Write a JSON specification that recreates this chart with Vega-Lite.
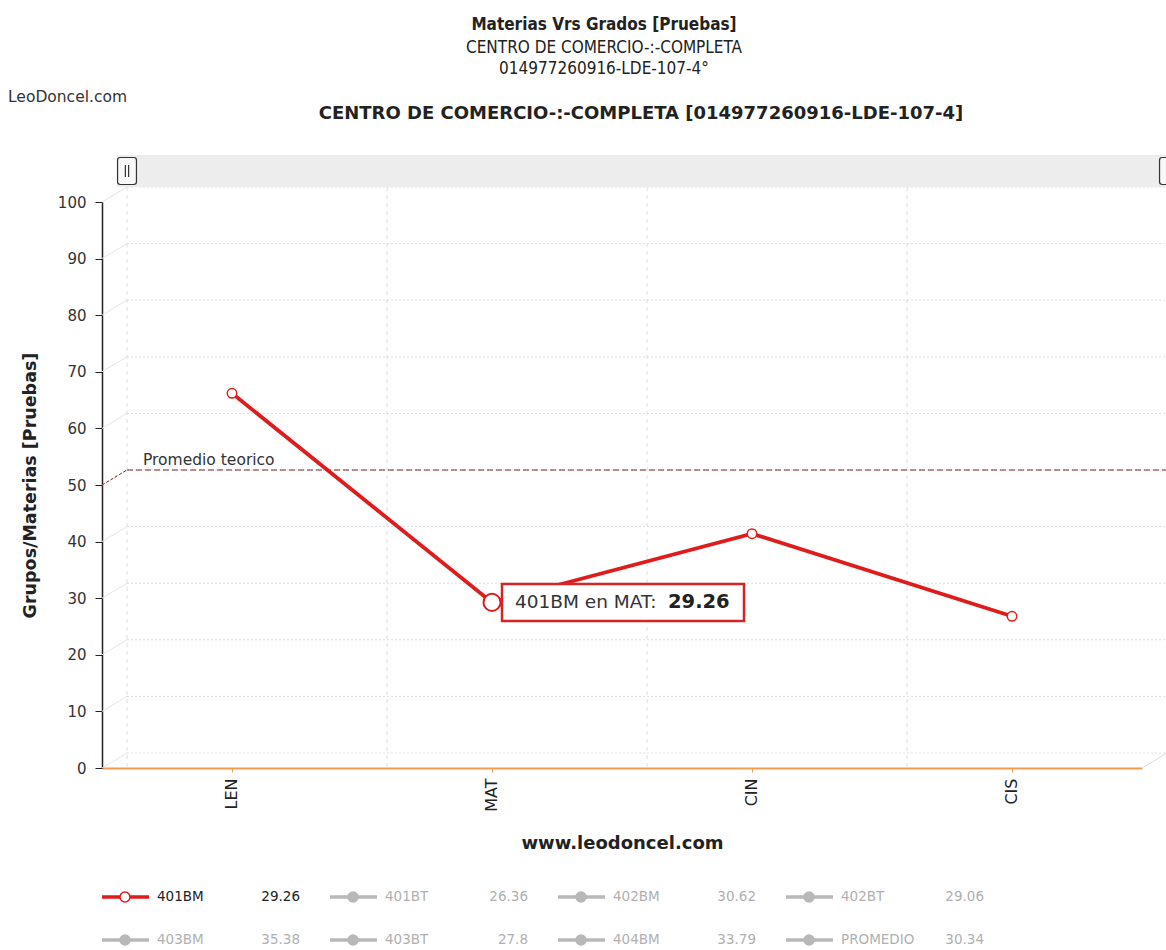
{
  "$schema": "https://vega.github.io/schema/vega-lite/v6.json",
  "background": "white",
  "padding": {"left": 8, "top": 16, "right": 0, "bottom": 0},
  "title": {
    "text": "Materias Vrs Grados [Pruebas]",
    "subtitle": ["CENTRO DE COMERCIO-:-COMPLETA", "014977260916-LDE-107-4°"],
    "anchor": "middle",
    "font": "DejaVu Sans Condensed",
    "fontSize": 17,
    "fontWeight": "bold",
    "color": "#222222",
    "subtitleFont": "DejaVu Sans Condensed",
    "subtitleFontSize": 17,
    "subtitleColor": "#222222",
    "subtitlePadding": 6,
    "subtitleLineHeight": 21,
    "offset": 12,
    "dx": 9
  },
  "datasets": {
    "grado": [
      {"serie": "401BM", "materia": "LEN", "valor": 66.2},
      {"serie": "401BM", "materia": "MAT", "valor": 29.26},
      {"serie": "401BM", "materia": "CIN", "valor": 41.4},
      {"serie": "401BM", "materia": "CIS", "valor": 26.8}
    ],
    "materias": [
      {"materia": "LEN"}, {"materia": "MAT"}, {"materia": "CIN"}, {"materia": "CIS"}
    ],
    "niveles": [
      {"v": 0}, {"v": 10}, {"v": 20}, {"v": 30}, {"v": 40}, {"v": 50},
      {"v": 60}, {"v": 70}, {"v": 80}, {"v": 90}, {"v": 100}
    ],
    "leyenda": [
      {"serie": "401BM", "valor": 29.26, "col": 0, "fila": 0, "activo": true},
      {"serie": "401BT", "valor": 26.36, "col": 1, "fila": 0, "activo": false},
      {"serie": "402BM", "valor": 30.62, "col": 2, "fila": 0, "activo": false},
      {"serie": "402BT", "valor": 29.06, "col": 3, "fila": 0, "activo": false},
      {"serie": "403BM", "valor": 35.38, "col": 0, "fila": 1, "activo": false},
      {"serie": "403BT", "valor": 27.8, "col": 1, "fila": 1, "activo": false},
      {"serie": "404BM", "valor": 33.79, "col": 2, "fila": 1, "activo": false},
      {"serie": "PROMEDIO", "valor": 30.34, "col": 3, "fila": 1, "activo": false}
    ]
  },
  "spacing": 36,
  "vconcat": [
    {
      "width": 1040,
      "height": 566,
      "title": {
        "text": "CENTRO DE COMERCIO-:-COMPLETA [014977260916-LDE-107-4]",
        "font": "DejaVu Sans",
        "fontSize": 18,
        "fontWeight": "bold",
        "color": "#222222",
        "anchor": "middle",
        "frame": "group",
        "offset": -33,
        "dx": 19
      },
      "layer": [
        {
          "data": {"name": "niveles"},
          "mark": {"type": "rule", "xOffset": 25, "x2Offset": 25, "yOffset": -15, "y2Offset": -15, "color": "#dddddd", "strokeDash": [2, 2], "strokeWidth": 1},
          "encoding": {
            "x": {"datum": "LEN", "type": "nominal", "bandPosition": 0},
            "x2": {"datum": "CIS", "bandPosition": 1},
            "y": {
              "field": "v",
              "type": "quantitative",
              "title": "Grupos/Materias [Pruebas]",
              "scale": {"domain": [0, 100], "nice": false},
              "axis": {"values": [0, 10, 20, 30, 40, 50, 60, 70, 80, 90, 100]}
            }
          }
        },
        {
          "data": {"name": "niveles"},
          "mark": {"type": "rule", "x2Offset": 25, "y2Offset": -15, "color": "#e6e6e6", "strokeWidth": 1},
          "encoding": {
            "x": {"datum": "LEN", "type": "nominal", "bandPosition": 0},
            "x2": {"datum": "LEN", "bandPosition": 0},
            "y": {"field": "v", "type": "quantitative"},
            "y2": {"field": "v"}
          }
        },
        {
          "data": {"name": "materias"},
          "mark": {"type": "rule", "xOffset": 25, "yOffset": -15, "y2Offset": -15, "color": "#dddddd", "strokeDash": [4, 4], "strokeWidth": 1},
          "encoding": {
            "x": {
              "field": "materia",
              "type": "nominal",
              "bandPosition": 0,
              "title": "www.leodoncel.com",
              "sort": null,
              "scale": {"domain": ["LEN", "MAT", "CIN", "CIS"], "paddingInner": 0, "paddingOuter": 0}
            }
          }
        },
        {
          "data": {"values": [{"materia": "CIS"}]},
          "mark": {"type": "rule", "x2Offset": 25, "y2Offset": -15, "color": "#dddddd", "strokeWidth": 1},
          "encoding": {
            "x": {"datum": "CIS", "type": "nominal", "bandPosition": 1},
            "x2": {"datum": "CIS", "bandPosition": 1},
            "y": {"datum": 0, "type": "quantitative"},
            "y2": {"datum": 0}
          }
        },
        {
          "data": {"values": [{"materia": "LEN"}]},
          "mark": {"type": "rule", "color": "#ededed", "strokeWidth": 32, "yOffset": -31, "y2Offset": -31, "xOffset": 15, "x2Offset": 24},
          "encoding": {
            "x": {"datum": "LEN", "type": "nominal", "bandPosition": 0},
            "x2": {"datum": "CIS", "bandPosition": 1},
            "y": {"datum": 100, "type": "quantitative"}
          }
        },
        {
          "data": {"values": [{"materia": "LEN"}]},
          "mark": {
            "type": "point",
            "shape": "M-0.5,-1H0.5Q0.7,-1 0.7,-0.8V0.8Q0.7,1 0.5,1H-0.5Q-0.7,1 -0.7,0.8V-0.8Q-0.7,-1 -0.5,-1ZM-0.12,-0.45V0.45M0.12,-0.45V0.45",
            "size": 729,
            "filled": true,
            "fill": "#f8f8f8",
            "stroke": "#333333",
            "strokeWidth": 1.2,
            "opacity": 1,
            "xOffset": 25,
            "yOffset": -31
          },
          "encoding": {
            "x": {"field": "materia", "type": "nominal", "bandPosition": 0},
            "y": {"datum": 100, "type": "quantitative"}
          }
        },
        {
          "data": {"values": [{"materia": "CIS"}]},
          "mark": {
            "type": "point",
            "shape": "M-0.5,-1H0.5Q0.7,-1 0.7,-0.8V0.8Q0.7,1 0.5,1H-0.5Q-0.7,1 -0.7,0.8V-0.8Q-0.7,-1 -0.5,-1ZM-0.12,-0.45V0.45M0.12,-0.45V0.45",
            "size": 729,
            "filled": true,
            "fill": "#f8f8f8",
            "stroke": "#333333",
            "strokeWidth": 1.2,
            "opacity": 1,
            "xOffset": 27,
            "yOffset": -31
          },
          "encoding": {
            "x": {"field": "materia", "type": "nominal", "bandPosition": 1},
            "y": {"datum": 100, "type": "quantitative"}
          }
        },
        {
          "data": {"values": [{"materia": "LEN"}]},
          "mark": {"type": "rule", "xOffset": 25, "x2Offset": 25, "yOffset": -15, "y2Offset": -15, "color": "#7a2424", "strokeDash": [6, 3], "strokeWidth": 1},
          "encoding": {
            "x": {"datum": "LEN", "type": "nominal", "bandPosition": 0},
            "x2": {"datum": "CIS", "bandPosition": 1},
            "y": {"datum": 50, "type": "quantitative"}
          }
        },
        {
          "data": {"values": [{"materia": "LEN"}]},
          "mark": {"type": "rule", "x2Offset": 25, "y2Offset": -15, "color": "#7a2424", "strokeDash": [3, 2], "strokeWidth": 1},
          "encoding": {
            "x": {"field": "materia", "type": "nominal", "bandPosition": 0},
            "x2": {"field": "materia", "bandPosition": 0},
            "y": {"datum": 50, "type": "quantitative"},
            "y2": {"datum": 50}
          }
        },
        {
          "data": {"values": [{"materia": "LEN", "texto": "Promedio teorico"}]},
          "mark": {"type": "text", "align": "left", "baseline": "middle", "font": "DejaVu Sans", "fontSize": 15.5, "color": "#333333", "xOffset": 41, "yOffset": -25},
          "encoding": {
            "x": {"field": "materia", "type": "nominal", "bandPosition": 0},
            "y": {"datum": 50, "type": "quantitative"},
            "text": {"field": "texto"}
          }
        },
        {
          "data": {"values": [{"materia": "LEN", "texto": "LeoDoncel.com"}]},
          "mark": {"type": "text", "align": "left", "baseline": "middle", "font": "DejaVu Sans", "fontSize": 15.5, "color": "#333333", "xOffset": -94, "yOffset": -105},
          "encoding": {
            "x": {"field": "materia", "type": "nominal", "bandPosition": 0},
            "y": {"datum": 100, "type": "quantitative"},
            "text": {"field": "texto"}
          }
        },
        {
          "data": {"name": "grado"},
          "mark": {"type": "line", "color": "#e01b1b", "strokeWidth": 3.8},
          "encoding": {
            "x": {"field": "materia", "type": "nominal"},
            "y": {"field": "valor", "type": "quantitative"}
          }
        },
        {
          "data": {"name": "grado"},
          "mark": {"type": "point", "filled": true, "fill": "white", "stroke": "#e01b1b", "strokeWidth": 1.5, "size": 90, "opacity": 1},
          "encoding": {
            "x": {"field": "materia", "type": "nominal"},
            "y": {"field": "valor", "type": "quantitative"}
          }
        },
        {
          "data": {"name": "grado"},
          "transform": [
            {"filter": "datum.materia === 'MAT'"},
            {"calculate": "datum.serie + ' en ' + datum.materia + ':'", "as": "etiqueta"}
          ],
          "layer": [
            {
              "mark": {"type": "point", "filled": true, "fill": "white", "stroke": "#e01b1b", "strokeWidth": 2, "size": 290, "opacity": 1}
            },
            {
              "mark": {"type": "point", "shape": "M-1,-0.153H1V0.153H-1Z", "size": 58564, "filled": true, "fill": "white", "stroke": "#d42424", "strokeWidth": 2.5, "opacity": 1, "xOffset": 131}
            },
            {
              "mark": {"type": "text", "align": "left", "baseline": "middle", "font": "DejaVu Sans", "fontSize": 18.5, "color": "#333333", "xOffset": 23},
              "encoding": {"text": {"field": "etiqueta"}}
            },
            {
              "mark": {"type": "text", "align": "left", "baseline": "middle", "font": "DejaVu Sans", "fontSize": 19.5, "fontWeight": "bold", "color": "#222222", "xOffset": 176},
              "encoding": {"text": {"field": "valor", "type": "quantitative", "format": ".2f"}}
            }
          ],
          "encoding": {
            "x": {"field": "materia", "type": "nominal"},
            "y": {"field": "valor", "type": "quantitative"}
          }
        }
      ]
    },
    {
      "width": 1040,
      "height": 55,
      "data": {"name": "leyenda"},
      "encoding": {
        "x": {"field": "col", "type": "quantitative", "scale": {"domain": [0, 3], "range": [0, 684]}, "axis": null},
        "y": {"field": "fila", "type": "quantitative", "scale": {"domain": [0, 1], "range": [6, 49]}, "axis": null}
      },
      "layer": [
        {
          "mark": {"type": "rule", "x2Offset": 47, "strokeWidth": 3.5},
          "encoding": {
            "x2": {"field": "col"},
            "color": {"condition": {"test": "datum.activo", "value": "#e01b1b"}, "value": "#b8b8b8"}
          }
        },
        {
          "mark": {"type": "point", "filled": true, "size": 100, "xOffset": 23, "opacity": 1, "strokeWidth": 1.5},
          "encoding": {
            "fill": {"condition": {"test": "datum.activo", "value": "white"}, "value": "#b8b8b8"},
            "stroke": {"condition": {"test": "datum.activo", "value": "#e01b1b"}, "value": "#b8b8b8"}
          }
        },
        {
          "mark": {"type": "text", "align": "left", "baseline": "middle", "font": "DejaVu Sans", "fontSize": 13.5, "xOffset": 55},
          "encoding": {
            "text": {"field": "serie"},
            "color": {"condition": {"test": "datum.activo", "value": "#222222"}, "value": "#b0b0b0"}
          }
        },
        {
          "mark": {"type": "text", "align": "right", "baseline": "middle", "font": "DejaVu Sans", "fontSize": 13.5, "xOffset": 198},
          "encoding": {
            "text": {"field": "valor", "type": "quantitative"},
            "color": {"condition": {"test": "datum.activo", "value": "#222222"}, "value": "#b0b0b0"}
          }
        }
      ]
    }
  ],
  "config": {
    "view": {"stroke": null},
    "font": "DejaVu Sans",
    "axisY": {
      "domainColor": "#222222",
      "domainWidth": 1.5,
      "tickColor": "#222222",
      "tickSize": 7,
      "labelFont": "DejaVu Sans",
      "labelFontSize": 15,
      "labelColor": "#333333",
      "labelPadding": 9,
      "titleFont": "DejaVu Sans",
      "titleFontSize": 17.5,
      "titleFontWeight": "bold",
      "titleColor": "#222222",
      "titlePadding": 18,
      "grid": false
    },
    "axisX": {
      "domainColor": "#f29c50",
      "domainWidth": 1.8,
      "tickColor": "#f29c50",
      "tickSize": 4,
      "labelAngle": 270,
      "labelFont": "DejaVu Sans",
      "labelFontSize": 16,
      "labelColor": "#222222",
      "labelPadding": 6,
      "titleFont": "DejaVu Sans",
      "titleFontSize": 18,
      "titleFontWeight": "bold",
      "titleColor": "#222222",
      "titlePadding": 23,
      "grid": false
    }
  }
}
